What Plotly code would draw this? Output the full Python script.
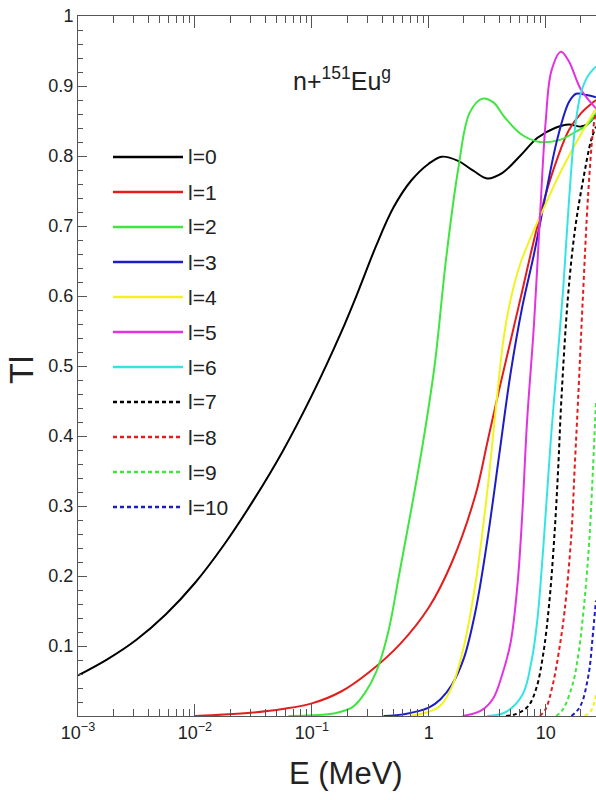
import plotly.graph_objects as go

# Transmission coefficients T_l(E) for n + 151Eu (ground state), partial waves l = 0..10
E_l0 = [0.001, 0.00178, 0.00316, 0.00562, 0.01, 0.0178, 0.0316, 0.0562, 0.1, 0.178, 0.251, 0.355,
        0.501, 0.708, 1.0, 1.29, 1.78, 2.4, 3.16, 4.27, 6.03, 8.51, 12.0, 15.8, 20.0, 22.9, 26.9]
T_l0 = [0.058, 0.081, 0.109, 0.145, 0.190, 0.245, 0.308, 0.378, 0.458, 0.548, 0.608, 0.672,
        0.727, 0.765, 0.789, 0.799, 0.793, 0.779, 0.768, 0.776, 0.800, 0.826, 0.840, 0.845, 0.842,
        0.846, 0.859]

E_l1 = [0.01, 0.0178, 0.0316, 0.0562, 0.1, 0.178, 0.316, 0.562, 1.0, 1.58, 2.51, 3.16, 3.98,
        5.01, 6.31, 7.94, 10.0, 12.6, 15.8, 20.0, 26.9]
T_l1 = [0.0, 0.002, 0.005, 0.010, 0.018, 0.035, 0.064, 0.102, 0.155, 0.220, 0.316, 0.390, 0.465,
        0.536, 0.608, 0.680, 0.745, 0.797, 0.837, 0.861, 0.880]

E_l2 = [0.063, 0.1, 0.158, 0.224, 0.282, 0.355, 0.447, 0.562, 0.708, 0.891, 1.12, 1.41, 1.78,
        2.24, 2.88, 3.55, 4.47, 6.31, 8.91, 13.2, 18.2, 22.4, 26.9]
T_l2 = [0.0, 0.001, 0.004, 0.013, 0.032, 0.063, 0.118, 0.205, 0.295, 0.390, 0.500, 0.655, 0.780,
        0.862, 0.882, 0.877, 0.855, 0.830, 0.820, 0.823, 0.835, 0.844, 0.861]

E_l3 = [0.41, 0.631, 1.0, 1.26, 1.58, 2.0, 2.51, 3.16, 3.98, 5.01, 6.31, 7.94, 10.0, 12.6, 15.8,
        18.2, 22.4, 26.9]
T_l3 = [0.0, 0.003, 0.012, 0.024, 0.045, 0.083, 0.150, 0.250, 0.370, 0.490, 0.585, 0.660, 0.745,
        0.825, 0.877, 0.889, 0.887, 0.884]

E_l4 = [0.69, 1.0, 1.26, 1.58, 2.0, 2.51, 3.16, 3.8, 4.37, 5.01, 6.03, 7.41, 8.91, 13.2, 19.5, 26.9]
T_l4 = [0.0, 0.006, 0.015, 0.042, 0.100, 0.190, 0.320, 0.450, 0.540, 0.595, 0.645, 0.683, 0.713,
        0.775, 0.828, 0.868]

E_l5 = [1.95, 2.82, 3.55, 4.17, 5.01, 5.75, 6.31, 6.92, 7.94, 8.91, 10.0, 11.2, 13.5, 15.8, 20.0, 26.9]
T_l5 = [0.0, 0.008, 0.025, 0.055, 0.105, 0.190, 0.290, 0.420, 0.560, 0.710, 0.850, 0.922, 0.949,
        0.935, 0.895, 0.868]

E_l6 = [3.16, 4.47, 6.31, 7.59, 8.51, 9.33, 10.0, 11.0, 12.6, 14.1, 15.8, 17.8, 20.0, 22.9, 26.9]
T_l6 = [0.0, 0.005, 0.030, 0.080, 0.140, 0.220, 0.290, 0.390, 0.510, 0.610, 0.735, 0.840, 0.890,
        0.914, 0.928]

E_l7 = [4.57, 5.62, 7.08, 8.32, 9.55, 10.7, 11.9, 12.8, 13.6, 15.5, 17.8, 20.9, 24.5, 26.9]
T_l7 = [0.0, 0.003, 0.014, 0.040, 0.090, 0.160, 0.261, 0.356, 0.451, 0.599, 0.695, 0.766, 0.823, 0.842]

E_l8 = [8.91, 10.0, 11.5, 12.9, 14.5, 16.6, 17.7, 18.9, 20.8, 23.0, 25.4, 26.9]
T_l8 = [0.0, 0.010, 0.045, 0.090, 0.150, 0.261, 0.356, 0.451, 0.599, 0.742, 0.837, 0.863]

E_l9 = [12.3, 14.1, 17.1, 19.1, 20.8, 22.4, 23.8, 25.4, 26.9]
T_l9 = [0.0, 0.010, 0.047, 0.090, 0.142, 0.200, 0.261, 0.356, 0.450]

E_l10 = [16.6, 19.1, 20.8, 22.4, 23.8, 25.1, 26.9]
T_l10 = [0.0, 0.010, 0.023, 0.045, 0.070, 0.110, 0.165]

# next partial wave, just entering the window at the high-energy edge
E_l11 = [21.5, 24.5, 26.9]
T_l11 = [0.0, 0.008, 0.030]

series_labels = ["l=0", "l=1", "l=2", "l=3", "l=4", "l=5", "l=6", "l=7", "l=8", "l=9", "l=10", "l=11"]
series_E = [E_l0, E_l1, E_l2, E_l3, E_l4, E_l5, E_l6, E_l7, E_l8, E_l9, E_l10, E_l11]
series_T = [T_l0, T_l1, T_l2, T_l3, T_l4, T_l5, T_l6, T_l7, T_l8, T_l9, T_l10, T_l11]
key_count = 11  # l=0..10 appear in the key

colors = ["#000000", "#e41c1c", "#3ee63e", "#1c1cc8", "#f2f21e", "#e232e2", "#34e4e4",
          "#000000", "#e41c1c", "#3ee63e", "#1c1cc8", "#f2f21e"]
dashes = ["solid"] * 7 + ["4px,3px"] * 5

x_tickvals = [0.001, 0.01, 0.1, 1, 10]
x_ticktext = ["10<sup>−3</sup>", "10<sup>−2</sup>", "10<sup>−1</sup>", "1", "10"]
y_tickvals = [0.1, 0.2, 0.3, 0.4, 0.5, 0.6, 0.7, 0.8, 0.9, 1.0]
y_ticktext = ["0.1", "0.2", "0.3", "0.4", "0.5", "0.6", "0.7", "0.8", "0.9", "1"]

W, H = 596, 800
ML, MR, MT, MB = 78, 0, 16, 84
PW, PH = W - ML - MR, H - MT - MB

FONT = "Liberation Sans Narrow, Liberation Sans, Arial, sans-serif"
TXT = "#222222"
AX = "#555555"

fig = go.Figure()
for lab, ex, ty, c, d in zip(series_labels, series_E, series_T, colors, dashes):
    fig.add_trace(go.Scatter(
        x=ex, y=ty, mode="lines", name=lab,
        line=dict(color=c, width=2, dash=d, shape="spline", smoothing=1.0),
        showlegend=False, hoverinfo="skip",
    ))

# hand-placed key in the upper left of the plot area
def px_to_paper(px, py):
    return (px - ML) / PW, (H - MB - py) / PH

shapes, annotations = [], []
for i in range(key_count):
    lab, c, d = series_labels[i], colors[i], dashes[i]
    row_y = 157 + 35.0 * i
    x0, y0 = px_to_paper(113, row_y)
    x1, _ = px_to_paper(183, row_y)
    shapes.append(dict(type="line", xref="paper", yref="paper", x0=x0, x1=x1, y0=y0, y1=y0,
                       line=dict(color=c, width=2.5, dash=d)))
    tx, ty = px_to_paper(186, row_y)
    annotations.append(dict(xref="paper", yref="paper", x=tx, y=ty, text=lab, showarrow=False,
                            xanchor="left", yanchor="middle",
                            font=dict(family=FONT, size=21, color=TXT)))

# reaction label
tx, ty = px_to_paper(291, 79)
annotations.append(dict(xref="paper", yref="paper", x=tx, y=ty,
                        text="n+<sup>151</sup>Eu<sup>g</sup>", showarrow=False,
                        xanchor="left", yanchor="middle",
                        font=dict(family=FONT, size=25, color=TXT)))

# axis titles
annotations.append(dict(xref="paper", yref="paper", x=(346 - ML) / PW, y=(H - MB - 774) / PH,
                        text="E (MeV)", showarrow=False, xanchor="center", yanchor="middle",
                        font=dict(family=FONT, size=31, color=TXT)))
annotations.append(dict(xref="paper", yref="paper", x=(21 - ML) / PW, y=(H - MB - 370) / PH,
                        text="Tl", showarrow=False, xanchor="center", yanchor="middle", textangle=-90,
                        font=dict(family=FONT, size=34, color=TXT)))

x_minor = [m * 10 ** k for k in (-3, -2, -1, 0, 1) for m in range(2, 10)]

fig.update_layout(
    width=W, height=H,
    margin=dict(l=ML, r=MR, t=MT, b=MB),
    paper_bgcolor="white", plot_bgcolor="white",
    shapes=shapes, annotations=annotations,
    font=dict(family=FONT, color=TXT),
    xaxis=dict(
        type="log", range=[-3, 1.43],
        tickvals=x_tickvals, ticktext=x_ticktext,
        ticks="inside", ticklen=12, tickwidth=1, tickcolor=AX,
        minor=dict(tickvals=x_minor, ticks="inside", ticklen=7, tickwidth=1, tickcolor=AX, showgrid=False),
        showline=True, linecolor=AX, linewidth=1, mirror="ticks",
        showgrid=False, zeroline=False,
        tickfont=dict(family=FONT, size=18, color=TXT),
    ),
    yaxis=dict(
        range=[0, 1],
        tickvals=y_tickvals, ticktext=y_ticktext,
        ticks="inside", ticklen=9, tickwidth=1, tickcolor=AX,
        minor=dict(dtick=0.02, ticks="inside", ticklen=5, tickwidth=1, tickcolor=AX, showgrid=False),
        showline=True, linecolor=AX, linewidth=1,
        showgrid=False, zeroline=False,
        tickfont=dict(family=FONT, size=18, color=TXT),
    ),
)

fig.write_html("out.html")
